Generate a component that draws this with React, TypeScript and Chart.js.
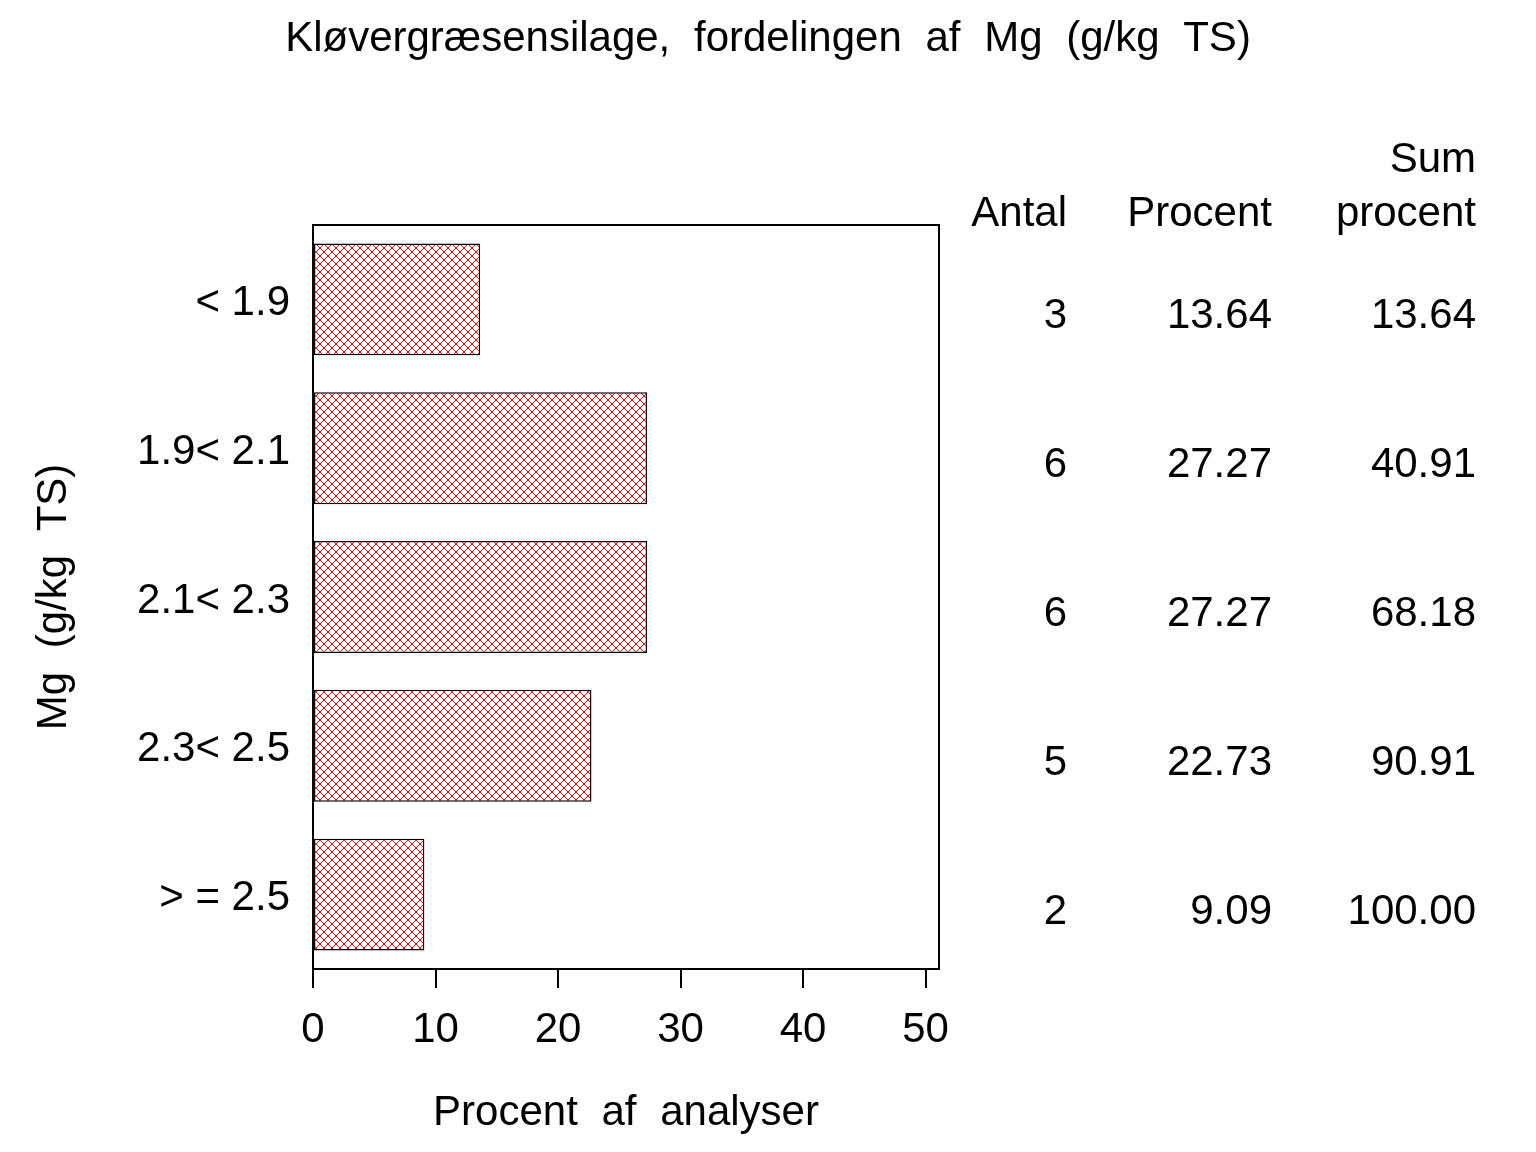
import React, { useEffect, useRef } from "react";
import { Chart, registerables } from "chart.js";

Chart.register(...registerables);

const FONT = "'Liberation Sans', Arial, Helvetica, sans-serif";

const categories = ["< 1.9", "1.9< 2.1", "2.1< 2.3", "2.3< 2.5", "> = 2.5"];
const percent = [13.64, 27.27, 27.27, 22.73, 9.09];
const antal = [3, 6, 6, 5, 2];
const sumPercent = [13.64, 40.91, 68.18, 90.91, 100.0];
const xTicks = [0, 10, 20, 30, 40, 50];
const xMax = 51.1;

const chartTitle = "Kløvergræsensilage, fordelingen af Mg (g/kg TS)";
const xTitle = "Procent af analyser";
const yTitle = "Mg (g/kg TS)";
const headerTop = ["", "", "Sum"];
const headerBottom = ["Antal", "Procent", "procent"];

function makeHatch(): CanvasPattern | string {
  const c = document.createElement("canvas");
  c.width = 8;
  c.height = 8;
  const g = c.getContext("2d");
  if (!g) return "red";
  g.fillStyle = "#ffffff";
  g.fillRect(0, 0, 8, 8);
  g.fillStyle = "#ff0000";
  for (let i = 0; i < 8; i++) {
    g.fillRect(i, i, 1, 1);
    g.fillRect(7 - i, i, 1, 1);
  }
  const p = g.createPattern(c, "repeat");
  return p || "red";
}

const decorPlugin = {
  id: "decor",
  afterDraw(chart: any) {
    const ctx: CanvasRenderingContext2D = chart.ctx;
    const area = chart.chartArea;
    const yScale = chart.scales.y;
    ctx.save();
    // frame
    ctx.strokeStyle = "#000";
    ctx.lineWidth = 2;
    ctx.strokeRect(area.left, area.top, area.right - area.left, area.bottom - area.top);

    ctx.fillStyle = "#000";
    ctx.font = `42px ${FONT}`;
    (ctx as any).wordSpacing = "12px";
    ctx.textBaseline = "alphabetic";
    ctx.textAlign = "center";
    ctx.fillText(chartTitle, chart.width / 2, 51);
    ctx.fillText(xTitle, (area.left + area.right) / 2, 1125);

    // table
    const cols = [1067, 1272, 1476];
    ctx.textAlign = "right";
    for (let c = 0; c < 3; c++) {
      if (headerTop[c]) ctx.fillText(headerTop[c], cols[c], 172);
      ctx.fillText(headerBottom[c], cols[c], 226);
    }
    for (let i = 0; i < categories.length; i++) {
      const y = yScale.getPixelForValue(i) + 29;
      ctx.fillText(String(antal[i]), cols[0], y);
      ctx.fillText(percent[i].toFixed(2), cols[1], y);
      ctx.fillText(sumPercent[i].toFixed(2), cols[2], y);
    }

    // y title
    ctx.translate(54, (area.top + area.bottom) / 2);
    ctx.rotate(-Math.PI / 2);
    ctx.textAlign = "center";
    ctx.textBaseline = "middle";
    ctx.fillText(yTitle, 0, 0);
    (ctx as any).wordSpacing = "0px";
    ctx.restore();
  },
};

export default function App() {
  const ref = useRef<HTMLCanvasElement>(null);

  useEffect(() => {
    if (!ref.current) return;
    const hatch = makeHatch();
    const chart = new Chart(ref.current, {
      type: "bar",
      data: {
        labels: categories,
        datasets: [
          {
            data: percent,
            backgroundColor: hatch as any,
            borderColor: "#000",
            borderWidth: 1.5,
            borderSkipped: false,
            barPercentage: 0.752,
            categoryPercentage: 1,
          },
        ],
      },
      options: {
        indexAxis: "y",
        animation: false,
        responsive: false,
        devicePixelRatio: 1,
        layout: { padding: { left: 0, top: 225, right: 597, bottom: 0 } },
        plugins: {
          legend: { display: false },
          tooltip: { enabled: false },
          title: { display: false },
        },
        scales: {
          x: {
            type: "linear",
            min: 0,
            max: xMax,
            afterBuildTicks: (scale: any) => {
              scale.ticks = xTicks.map((v) => ({ value: v }));
            },
            afterFit: (scale: any) => {
              scale.height = 1152 - 969;
            },
            grid: {
              display: true,
              drawOnChartArea: false,
              drawTicks: true,
              tickLength: 19,
              color: "#000",
              lineWidth: 2,
            },
            border: { display: true, color: "#000", width: 2 },
            ticks: {
              color: "#000",
              font: { family: FONT, size: 42 },
              padding: 17,
              maxRotation: 0,
              autoSkip: false,
            },
          },
          y: {
            type: "category",
            offset: true,
            afterFit: (scale: any) => {
              scale.width = 313;
            },
            grid: { display: false },
            border: { display: true, color: "#000", width: 2 },
            ticks: {
              color: "#000",
              font: { family: FONT, size: 42 },
              padding: 15,
              labelOffset: 4,
              autoSkip: false,
            },
          },
        },
      },
      plugins: [decorPlugin],
    });
    return () => chart.destroy();
  }, []);

  return (
    <div style={{ position: "absolute", left: 0, top: 0, width: 1536, height: 1152, background: "#fff" }}>
      <canvas ref={ref} width={1536} height={1152} style={{ display: "block", width: 1536, height: 1152 }} />
    </div>
  );
}
